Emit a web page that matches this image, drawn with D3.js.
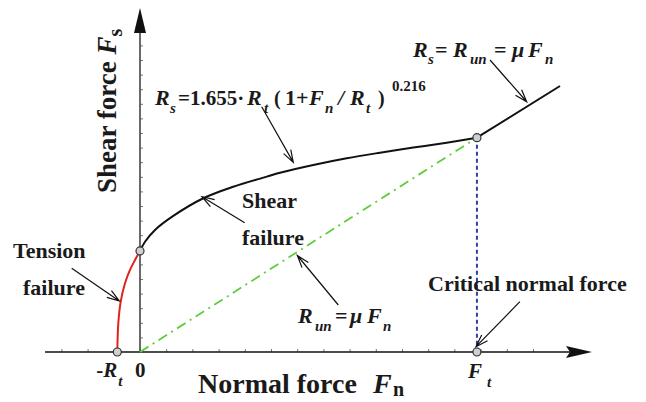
<!DOCTYPE html>
<html>
<head>
<meta charset="utf-8">
<script src="https://cdn.jsdelivr.net/npm/d3@7"></script>
<style>
  html, body { margin: 0; padding: 0; background: #fff; }
  svg { display: block; }
  text { font-family: "Liberation Serif", "Times New Roman", serif; font-weight: bold; fill: #1a1a1a; }
</style>
</head>
<body>
<svg id="chart" width="646" height="402"></svg>
<script>
// Minor tick positions (in tick units) along each axis
const xTickValues = d3.range(-3, 16);
const yTickValues = d3.range(1, 22);

// Key points of the strength envelope
const tensileStrength = -0.866;   // -R_t on the normal-force axis
const shearIntercept = 6.92;      // shear strength at zero normal force
const criticalForce = 12.86;      // F_t
const criticalShear = 14.68;      // shear at F_t

// Tension failure branch (red)
const tensionX = [-0.866, -0.828, -0.737, -0.573, -0.382, -0.191, 0];
const tensionY = [0, 1.97, 3.45, 4.71, 5.62, 6.30, 6.92];

// Shear failure branch (black curve)
const shearX = [0, 0.191, 0.573, 1.271, 2.416, 3.561, 4.836, 5.344, 6.615, 7.889, 9.160, 10.431, 11.706, 12.86];
const shearY = [6.92, 7.55, 8.36, 9.32, 10.53, 11.32, 12.01, 12.28, 12.81, 13.27, 13.65, 14.00, 14.34, 14.68];

// Residual friction branch beyond F_t
const frictionX = [12.86, 16.03];
const frictionY = [14.68, 18.22];

// Residual friction line R_un = mu F_n
const residualX = [0, 12.86];
const residualY = [0, 14.68];

// Callout arrows: [fromX, fromY, toX, toY]
const callouts = [
  [4.645, 16.80, 5.851, 12.99],
  [3.996, 8.856, 2.366, 10.64],
  [13.36, 20.00, 14.76, 17.14],
  [-2.607, 5.733, -0.790, 3.493],
  [7.569, 3.219, 6.004, 6.610],
  [14.50, 3.445, 12.824, 0.363]
];

const svg = d3.select("#chart");
const x = d3.scaleLinear().domain([0, 15]).range([140, 533]);
const y = d3.scaleLinear().domain([0, 21]).range([352, 45.4]);

// Axes with minor ticks
const xAxis = d3.axisTop(x).tickValues(xTickValues).tickSizeInner(3).tickSizeOuter(0).tickFormat("");
const gx = svg.append("g").attr("transform", `translate(0,${y(0)})`).call(xAxis);
gx.select(".domain").remove();
gx.selectAll(".tick line").attr("stroke", "#777").attr("stroke-width", 1);

const yAxis = d3.axisRight(y).tickValues(yTickValues).tickSizeInner(3).tickSizeOuter(0).tickFormat("");
const gy = svg.append("g").attr("transform", `translate(${x(0)},0)`).call(yAxis);
gy.select(".domain").remove();
gy.selectAll(".tick line").attr("stroke", "#777").attr("stroke-width", 1);

// Axis lines and arrowheads
svg.append("line").attr("x1", 45).attr("x2", 570).attr("y1", y(0)).attr("y2", y(0))
  .attr("stroke", "#111").attr("stroke-width", 1.6);
svg.append("path").attr("d", `M592,${y(0)} L566,${y(0) - 6} L570,${y(0)} L566,${y(0) + 6} Z`).attr("fill", "#111");
svg.append("line").attr("x1", x(0)).attr("x2", x(0)).attr("y1", y(0)).attr("y2", 30)
  .attr("stroke", "#444").attr("stroke-width", 1.6);
svg.append("path").attr("d", `M${x(0)},8 L${x(0) - 6},33 L${x(0) + 6},33 Z`).attr("fill", "#111");

const line = d3.line().x(d => x(d[0])).y(d => y(d[1]));
const zip = (a, b) => a.map((v, i) => [v, b[i]]);

// Residual friction line (green dash-dot)
svg.append("path").attr("d", line(zip(residualX, residualY)))
  .attr("fill", "none").attr("stroke", "#5fcc3c").attr("stroke-width", 1.8)
  .attr("stroke-dasharray", "10,5,2,5");

// Critical normal force marker (blue dashed)
svg.append("path").attr("d", line([[criticalForce, criticalShear], [criticalForce, 0]]))
  .attr("fill", "none").attr("stroke", "#2f3fa8").attr("stroke-width", 2)
  .attr("stroke-dasharray", "4,3");

// Tension branch
svg.append("path").attr("d", line.curve(d3.curveCatmullRom)(zip(tensionX, tensionY)))
  .attr("fill", "none").attr("stroke", "#e3211c").attr("stroke-width", 2);

// Shear branch
svg.append("path").attr("d", line.curve(d3.curveCatmullRom)(zip(shearX, shearY)))
  .attr("fill", "none").attr("stroke", "#111").attr("stroke-width", 2);

// Friction branch
svg.append("path").attr("d", line.curve(d3.curveLinear)(zip(frictionX, frictionY)))
  .attr("fill", "none").attr("stroke", "#111").attr("stroke-width", 2);

// Key points
const keyPoints = [[tensileStrength, 0], [0, shearIntercept], [criticalForce, criticalShear], [criticalForce, 0]];
svg.selectAll("circle.key").data(keyPoints).join("circle")
  .attr("class", "key")
  .attr("cx", d => x(d[0])).attr("cy", d => y(d[1])).attr("r", 4)
  .attr("fill", "#cfcfcf").attr("stroke", "#333").attr("stroke-width", 1.2);

// Callout arrows with open heads
const arrowG = svg.append("g").attr("stroke", "#111").attr("stroke-width", 1.2).attr("fill", "none");
callouts.forEach(c => {
  const x1 = x(c[0]), y1 = y(c[1]), x2 = x(c[2]), y2 = y(c[3]);
  const ang = Math.atan2(y2 - y1, x2 - x1);
  const L = 13, spread = 0.32;
  const w1 = [x2 - L * Math.cos(ang - spread), y2 - L * Math.sin(ang - spread)];
  const w2 = [x2 - L * Math.cos(ang + spread), y2 - L * Math.sin(ang + spread)];
  arrowG.append("path").attr("d", `M${x1},${y1} L${x2},${y2} M${w1[0]},${w1[1]} L${x2},${y2} L${w2[0]},${w2[1]}`);
});

// Helper for rich text pieces: [text, x, y, size, italic]
function richText(pieces) {
  const t = svg.append("text");
  pieces.forEach(p => {
    t.append("tspan").attr("x", p[1]).attr("y", p[2])
      .style("font-size", p[3] + "px")
      .style("font-style", p[4] ? "italic" : "normal")
      .text(p[0]);
  });
  return t;
}

// Envelope formula
richText([
  ["R", 155, 105, 22, true], ["s", 170, 113, 15, true],
  ["=1.655·", 178, 105, 21, false], ["R", 247, 105, 22, true], ["t", 264, 113, 15, true],
  ["(", 274, 105, 20, false], ["1+", 285, 105, 22, false], ["F", 309, 105, 22, true],
  ["n", 325, 113, 15, true], ["/", 338, 105, 22, true], ["R", 350, 105, 22, true],
  ["t", 366, 113, 15, true], [")", 378, 105, 20, false], ["0.216", 392, 91, 15, false]
]);

// Friction branch formula
richText([
  ["R", 413, 57, 22, true], ["s", 428, 64, 15, true], ["=", 435, 57, 22, false],
  ["R", 453, 57, 22, true], ["un", 470, 64, 15, true], ["=", 494, 57, 22, false],
  ["μ", 512, 57, 22, true], ["F", 528, 57, 22, true], ["n", 545, 64, 15, true]
]);

// Residual friction formula
richText([
  ["R", 298, 323, 22, true], ["un", 315, 331, 15, true], ["=", 335, 323, 22, false],
  ["μ", 350, 323, 22, true], ["F", 367, 323, 22, true], ["n", 383, 331, 15, true]
]);

// Region labels
richText([["Tension", 13, 258, 22, false], ["failure", 23, 295, 22, false]]);
richText([["Shear", 242, 208, 22, false], ["failure", 242, 245, 22, false]]);
richText([["Critical normal force", 428, 291, 22, false]]);

// Axis point labels
richText([["-", x(tensileStrength) - 21, 377, 21, false], ["R", x(tensileStrength) - 14, 377, 21, true],
          ["t", x(tensileStrength) + 1, 386, 15, true]]);
richText([["0", x(0) - 5, 377, 21, false]]);
richText([["F", x(criticalForce) - 9, 378, 21, true], ["t", x(criticalForce) + 10, 387, 15, true]]);

// Axis titles
richText([["Normal force", 198, 393, 28, false], ["F", 373, 393, 28, true], ["n", 393, 396, 20, false]]);

const yTitle = svg.append("text").attr("transform", "translate(116,193) rotate(-90)");
yTitle.append("tspan").style("font-size", "27px").text("Shear force ");
yTitle.append("tspan").style("font-size", "27px").style("font-style", "italic").text("F");
yTitle.append("tspan").style("font-size", "20px").attr("dy", 6).text("s");
</script>
</body>
</html>
